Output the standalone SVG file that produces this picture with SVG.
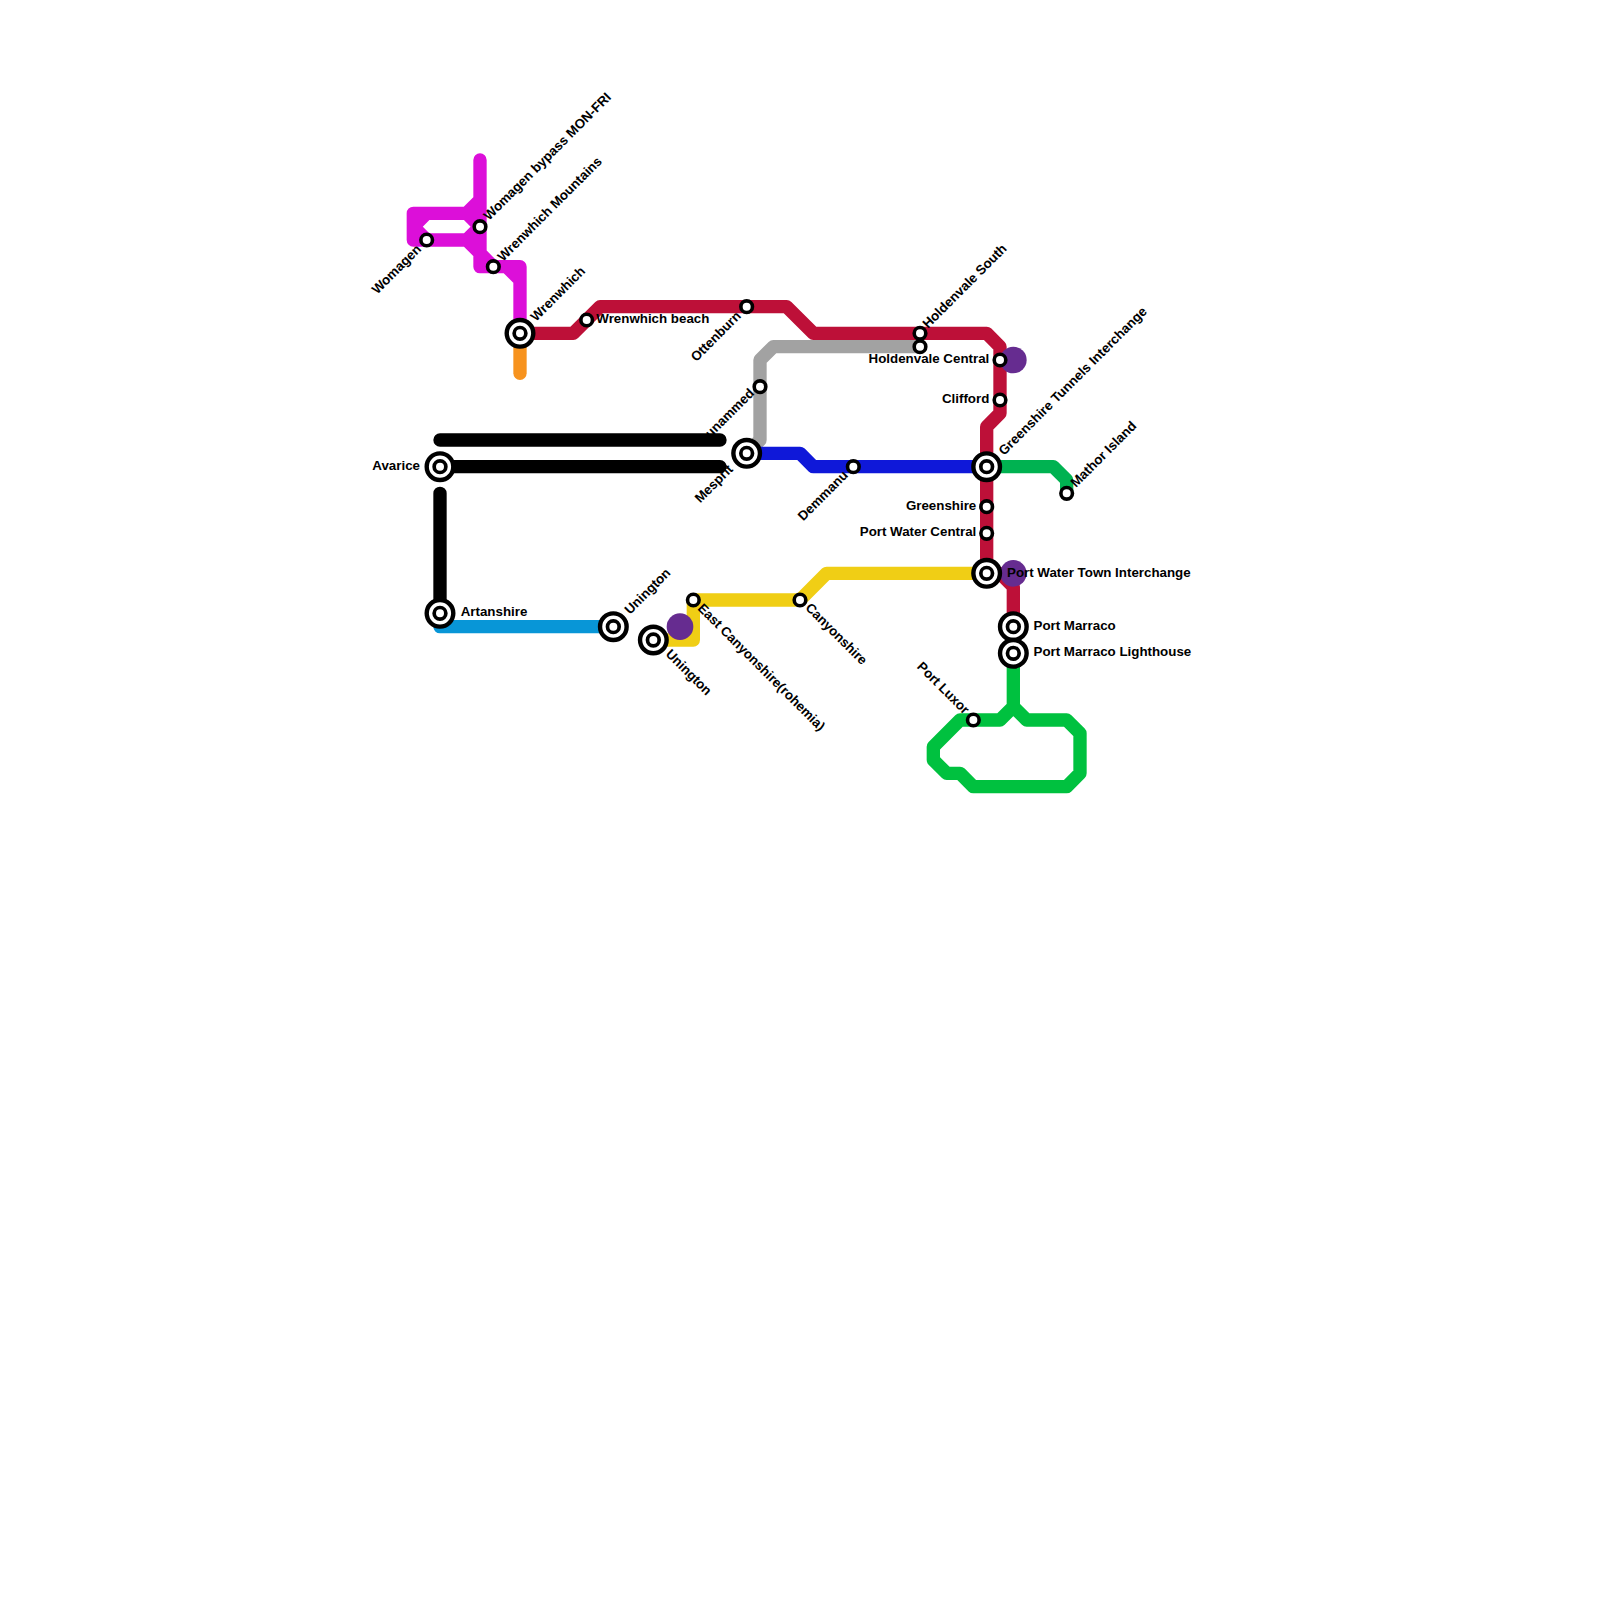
<svg xmlns="http://www.w3.org/2000/svg" width="1600" height="1600" viewBox="0 0 1600 1600">
<style>
.l{fill:none;stroke-width:13.33;stroke-linecap:round;stroke-linejoin:round}
.s{fill:#fff;stroke:#000;stroke-width:3.6}
.o{fill:#fff;stroke:#000;stroke-width:4.4}
.i{fill:#fff;stroke:#000;stroke-width:3.7}
.h{fill:#662c90}
text{font-family:"Liberation Sans",Arial,sans-serif;font-size:13.33px;font-weight:700;fill:#000}
.e{text-anchor:end}
</style>
<rect width="1600" height="1600" fill="#fff"/>
<g id="connectors">
<path class="l" stroke="#000" d="M440 440H720M440 466.67H720M440 493.33V613.33"/>
<path class="l" stroke="#f7931e" d="M520 333.33V373.33"/>
<path class="l" stroke="#dc0fd9" d="M480 160V266.67H520V333.33M480 200L466.67 213.33H413.33V240H466.67L480 253.33L493.33 266.67M466.67 213.33L480 226.67L466.67 240M426.67 213.33L413.33 226.67L426.67 240M506.67 266.67L520 280"/>
<path class="l" stroke="#bd1038" d="M520 333.33H573.33L600 306.67H786.67L813.33 333.33H986.67L1000 346.67V413.33L986.67 426.67V573.33H1000L1013.33 586.67V626.67"/>
<path class="l" stroke="#a2a2a2" d="M746.67 453.33L760 440V360L773.33 346.67H920"/>
<path class="l" stroke="#0f18d9" d="M746.67 453.33H800L813.33 466.67H986.67"/>
<path class="l" stroke="#00b251" d="M986.67 466.67H1053.33L1066.67 480V493.33"/>
<path class="l" stroke="#0896d7" d="M440 613.33V626.67H613.33"/>
<path class="l" stroke="#f0ce15" d="M653.33 640H693.33V600H800L826.67 573.33H986.67"/>
<path class="l" stroke="#00c13f" d="M1013.33 653.33V706.67L1000 720H960L933.33 746.67V760L946.67 773.33H960L973.33 786.67H1066.67L1080 773.33V733.33L1066.67 720H1026.67L1013.33 706.67"/>
</g>
<g id="interchange-markers">
<circle class="h" cx="680" cy="626.67" r="13.33"/>
<circle class="h" cx="1013.33" cy="360" r="13.33"/>
<circle class="h" cx="1013.33" cy="573.33" r="13.33"/>
</g>
<defs>
<g id="st"><circle class="s" r="5.8"/></g>
<g id="ic"><circle class="o" r="13.3"/><circle class="i" r="5.85"/></g>
</defs>
<g id="n-womagen"><use href="#st" x="426.67" y="240"/><text class="e" transform="translate(422,250) rotate(-45)">Womagen</text></g>
<g id="n-womagen-bypass"><use href="#st" x="480" y="226.67"/><text transform="translate(489,221) rotate(-45)">Womagen bypass MON-FRI</text></g>
<g id="n-wrenwhich-mountains"><use href="#st" x="493.33" y="266.67"/><text transform="translate(503,262) rotate(-45)">Wrenwhich Mountains</text></g>
<g id="n-wrenwhich"><use href="#ic" x="520" y="333.33"/><text transform="translate(536,322) rotate(-45)">Wrenwhich</text></g>
<g id="n-wrenwhich-beach"><use href="#st" x="586.67" y="320"/><text x="596.3" y="323">Wrenwhich beach</text></g>
<g id="n-ottenburn"><use href="#st" x="746.67" y="306.67"/><text class="e" transform="translate(741.7,316.7) rotate(-45)">Ottenburn</text></g>
<g id="n-unammed"><use href="#st" x="760" y="386.67"/><text class="e" transform="translate(755,394) rotate(-45)">unammed</text></g>
<g id="n-mesprit"><use href="#ic" x="746.67" y="453.33"/><text class="e" transform="translate(733.7,470) rotate(-45)">Mesprit</text></g>
<g id="n-holdenvale-south"><use href="#st" x="920" y="333.33"/><text transform="translate(928,329) rotate(-45)">Holdenvale South</text></g>
<g id="n-grey-end"><use href="#st" x="920" y="346.67"/></g>
<g id="n-holdenvale-central"><use href="#st" x="1000" y="360"/><text class="e" x="989.3" y="363">Holdenvale Central</text></g>
<g id="n-clifford"><use href="#st" x="1000" y="400"/><text class="e" x="989.3" y="403">Clifford</text></g>
<g id="n-greenshire-tunnels"><use href="#ic" x="986.67" y="466.67"/><text transform="translate(1004,456) rotate(-45)">Greenshire Tunnels Interchange</text></g>
<g id="n-mathor"><use href="#st" x="1066.67" y="493.33"/><text transform="translate(1076,488) rotate(-45)">Mathor Island</text></g>
<g id="n-demmanu"><use href="#st" x="853.33" y="466.67"/><text class="e" transform="translate(848.7,476) rotate(-45)">Demmanu</text></g>
<g id="n-greenshire"><use href="#st" x="986.67" y="506.67"/><text class="e" x="976.3" y="509.5">Greenshire</text></g>
<g id="n-port-water-central"><use href="#st" x="986.67" y="533.33"/><text class="e" x="976.3" y="536.2">Port Water Central</text></g>
<g id="n-port-water-town"><use href="#ic" x="986.67" y="573.33"/><text x="1007" y="576.5">Port Water Town Interchange</text></g>
<g id="n-port-marraco"><use href="#ic" x="1013.33" y="626.67"/><text x="1033.5" y="629.5">Port Marraco</text></g>
<g id="n-port-marraco-lighthouse"><use href="#ic" x="1013.33" y="653.33"/><text x="1033.5" y="656.2">Port Marraco Lighthouse</text></g>
<g id="n-port-luxor"><use href="#st" x="973.33" y="720"/><text class="e" transform="translate(964,715) rotate(45)">Port Luxor</text></g>
<g id="n-avarice"><use href="#ic" x="440" y="466.67"/><text class="e" x="420" y="469.5">Avarice</text></g>
<g id="n-artanshire"><use href="#ic" x="440" y="613.33"/><text x="460.7" y="616.2">Artanshire</text></g>
<g id="n-unington-a"><use href="#ic" x="613.33" y="626.67"/><text transform="translate(630,615) rotate(-45)">Unington</text></g>
<g id="n-unington-b"><use href="#ic" x="653.33" y="640"/><text transform="translate(665,654.7) rotate(45)">Unington</text></g>
<g id="n-east-canyonshire"><use href="#st" x="693.33" y="600"/><text transform="translate(697,609) rotate(45)">East Canyonshire(rohemia)</text></g>
<g id="n-canyonshire"><use href="#st" x="800" y="600"/><text transform="translate(804.7,608.5) rotate(45)">Canyonshire</text></g>
</svg>
